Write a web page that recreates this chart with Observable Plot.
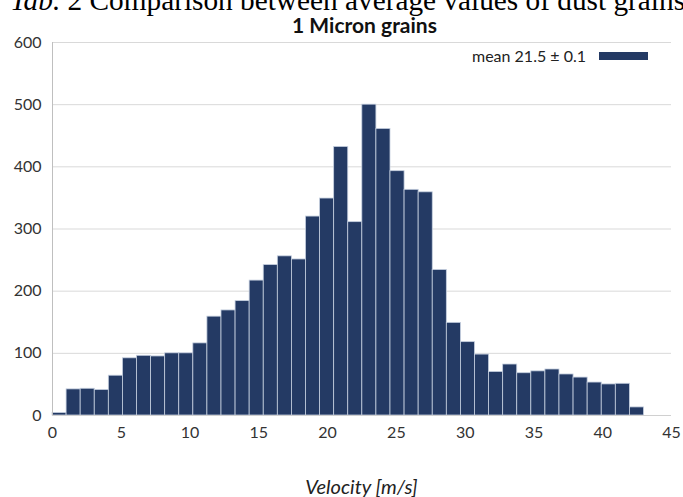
<!DOCTYPE html>
<html>
<head>
<meta charset="utf-8">
<script src="https://cdn.jsdelivr.net/npm/d3@7"></script>
<script src="https://cdn.jsdelivr.net/npm/@observablehq/plot@0.6"></script>
<style>
  html, body { margin: 0; padding: 0; background: #fff; }
  #wrap { position: relative; width: 683px; height: 497px; overflow: hidden; font-family: Lato, "Open Sans", sans-serif; }
  #wrap svg { position: absolute; left: 0; top: 0; }
  .ov { position: absolute; white-space: nowrap; }
</style>
</head>
<body>
<div id="wrap"></div>
<script>
// Data: counts per velocity bin (42 bins covering 0 to ~43 m/s)
const counts = [4, 42, 43, 41, 64, 92, 96, 95, 100, 100, 116, 159, 169, 184, 217, 242, 256, 251, 320, 349,
                432, 311, 500, 461, 393, 363, 359, 234, 149, 118, 98, 70, 82, 68, 71, 74, 66, 61, 53, 50, 51, 13];
const rangeMax = 43;
const xTicks = [0, 5, 10, 15, 20, 25, 30, 35, 40, 45];
const yTicks = [0, 100, 200, 300, 400, 500, 600];
const chartTitle = "1 Micron grains";
const pageHeading = ["Tab.", " 2 Comparison between average values of dust grains"];
const legendLabel = "mean 21.5 ± 0.1";
const xLabel = "Velocity [m/s]";

const binW = rangeMax / counts.length;
const bins = counts.map((c, i) => ({x1: i * binW, x2: (i + 1) * binW, count: c}));

const color = "#243a64";

const chart = Plot.plot({
  width: 683,
  height: 497,
  marginTop: 42,
  marginBottom: 82,
  marginLeft: 52,
  marginRight: 12,
  style: {fontFamily: "Lato, 'Open Sans', sans-serif", fontSize: "16px", color: "#333", background: "transparent"},
  x: {domain: [0, 45], ticks: xTicks, tickSize: 0, tickPadding: 12, label: null},
  y: {domain: [0, 600], ticks: yTicks, tickSize: 0, tickPadding: 11, label: null},
  marks: [
    Plot.gridY(yTicks, {stroke: "#d9d9d9", strokeOpacity: 1, strokeWidth: 1}),
    Plot.rectY(bins, {x1: "x1", x2: "x2", y: "count", fill: color, stroke: "#c5cfdf", strokeWidth: 0.8, inset: 0}),
    Plot.ruleY([0], {stroke: "#d0d0d0", strokeWidth: 1}),
    Plot.ruleX([0], {stroke: "#bfbfbf", strokeWidth: 1}),
    Plot.axisX({ticks: xTicks, tickSize: 0, tickPadding: 11, label: null, fontSize: 16}),
    Plot.axisY({ticks: yTicks, tickSize: 0, tickPadding: 11, label: null, fontSize: 16})
  ]
});

const wrap = document.getElementById("wrap");
wrap.appendChild(chart);

// heading (partially cut off at top, as in the reference)
const h = document.createElement("div");
h.className = "ov";
h.style.cssText = "left:10px; top:-14px; line-height:29px; font-family:'Liberation Serif','Times New Roman',serif; font-size:29.3px; color:#000;";
h.innerHTML = "<i>" + pageHeading[0] + "</i>" + pageHeading[1];
wrap.appendChild(h);

// chart title
const t = document.createElement("div");
t.className = "ov";
t.textContent = chartTitle;
t.style.cssText = "left:0; width:683px; text-align:center; top:13px; line-height:24px; font-weight:bold; font-size:21px; color:#111; padding-left:46px; box-sizing:border-box;";
wrap.appendChild(t);

// legend
const lg = document.createElement("div");
lg.className = "ov";
lg.style.cssText = "left:472px; top:46px; line-height:20px; font-size:16px; color:#222; display:flex; align-items:center;";
lg.innerHTML = "<span>" + legendLabel + "</span><span style='display:inline-block;width:49px;height:8px;background:" + color + ";margin-left:13px'></span>";
wrap.appendChild(lg);

// x label
const xl = document.createElement("div");
xl.className = "ov";
xl.textContent = xLabel;
xl.style.cssText = "left:52px; width:619px; text-align:center; top:475px; line-height:22px; font-style:italic; font-size:20px; color:#222;";
wrap.appendChild(xl);
</script>
</body>
</html>
